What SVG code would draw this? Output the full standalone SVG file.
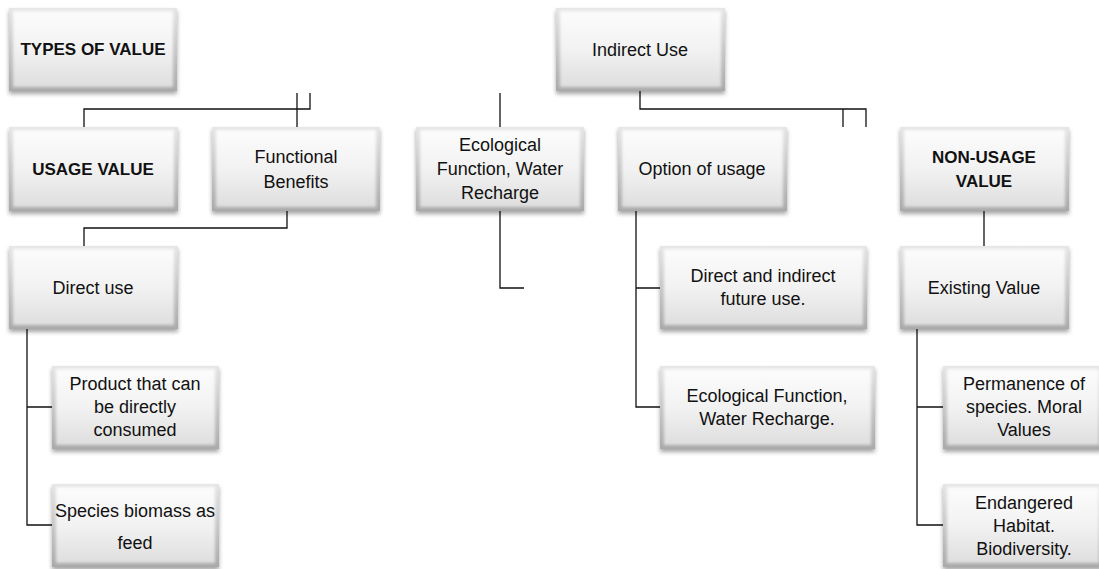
<svg xmlns="http://www.w3.org/2000/svg" width="1099" height="569" viewBox="0 0 1099 569">
<defs>
<linearGradient id="edge" x1="0" y1="0" x2="0" y2="1">
<stop offset="0" stop-color="#e6e6e6"/>
<stop offset="1" stop-color="#a9a9a9"/>
</linearGradient>
<linearGradient id="face" x1="0" y1="0" x2="0" y2="1">
<stop offset="0" stop-color="#fcfcfc"/>
<stop offset="0.5" stop-color="#f2f2f2"/>
<stop offset="1" stop-color="#dedede"/>
</linearGradient>
<filter id="sh" x="-10%" y="-10%" width="125%" height="130%">
<feDropShadow dx="0" dy="3" stdDeviation="2" flood-color="#000" flood-opacity="0.35"/>
</filter>
<filter id="soft" x="-5%" y="-5%" width="110%" height="110%">
<feGaussianBlur stdDeviation="1.5"/>
</filter>
</defs>
<style>
.o{fill:url(#edge);filter:url(#sh)}
.f{fill:url(#face);filter:url(#soft)}
text{font-family:"Liberation Sans",Arial,sans-serif;font-size:18px;fill:#111;text-anchor:middle}
.b{font-weight:bold;font-size:17px}
.c{fill:none;stroke:#111;stroke-width:1.3}
</style>
<rect width="1099" height="569" fill="#fff"/>
<g id="connectors">
<path class="c" d="M297,93V127"/>
<path class="c" d="M310,93V109H84V127"/>
<path class="c" d="M287,211V228H84V246"/>
<path class="c" d="M500,93V127"/>
<path class="c" d="M500,211V288H524"/>
<path class="c" d="M640,91V109H866V127"/>
<path class="c" d="M843,109V127"/>
<path class="c" d="M636,211V407H660M636,288H660"/>
<path class="c" d="M984,211V246"/>
<path class="c" d="M27,329V525H52M27,407H52"/>
<path class="c" d="M917,329V525H943M917,407H943"/>
</g>
<g id="types"><rect class="o" x="9" y="8" width="168" height="83"/><rect class="f" x="13" y="11" width="160" height="76"/><text class="b" x="93" y="55">TYPES OF VALUE</text></g>
<g id="usage"><rect class="o" x="9" y="127" width="169" height="84"/><rect class="f" x="13" y="130" width="161" height="77"/><text class="b" x="93" y="175">USAGE VALUE</text></g>
<g id="functional"><rect class="o" x="212" y="127" width="168" height="84"/><rect class="f" x="216" y="130" width="160" height="77"/><text x="296" y="163">Functional</text><text x="296" y="188">Benefits</text></g>
<g id="eco"><rect class="o" x="416" y="127" width="168" height="84"/><rect class="f" x="420" y="130" width="160" height="77"/><text x="500" y="151">Ecological</text><text x="500" y="175">Function, Water</text><text x="500" y="199">Recharge</text></g>
<g id="indirect"><rect class="o" x="556" y="8" width="169" height="83"/><rect class="f" x="560" y="11" width="161" height="76"/><text x="640" y="56">Indirect Use</text></g>
<g id="option"><rect class="o" x="618" y="127" width="169" height="84"/><rect class="f" x="622" y="130" width="161" height="77"/><text x="702" y="175">Option of usage</text></g>
<g id="nonusage"><rect class="o" x="900" y="127" width="169" height="84"/><rect class="f" x="904" y="130" width="161" height="77"/><text class="b" x="984" y="163">NON-USAGE</text><text class="b" x="984" y="187">VALUE</text></g>
<g id="direct"><rect class="o" x="9" y="246" width="169" height="83"/><rect class="f" x="13" y="249" width="161" height="76"/><text x="93" y="294">Direct use</text></g>
<g id="product"><rect class="o" x="52" y="366" width="167" height="83"/><rect class="f" x="56" y="369" width="159" height="76"/><text x="135" y="390">Product that can</text><text x="135" y="413">be directly</text><text x="135" y="436">consumed</text></g>
<g id="species"><rect class="o" x="52" y="484" width="167" height="83"/><rect class="f" x="56" y="487" width="159" height="76"/><text x="135" y="517">Species biomass as</text><text x="135" y="549">feed</text></g>
<g id="future"><rect class="o" x="660" y="246" width="207" height="83"/><rect class="f" x="664" y="249" width="199" height="76"/><text x="763" y="282">Direct and indirect</text><text x="763" y="305">future use.</text></g>
<g id="ecofn"><rect class="o" x="660" y="366" width="215" height="83"/><rect class="f" x="664" y="369" width="207" height="76"/><text x="767" y="402">Ecological Function,</text><text x="767" y="425">Water Recharge.</text></g>
<g id="existing"><rect class="o" x="900" y="246" width="169" height="83"/><rect class="f" x="904" y="249" width="161" height="76"/><text x="984" y="294">Existing Value</text></g>
<g id="permanence"><rect class="o" x="943" y="366" width="160" height="83"/><rect class="f" x="947" y="369" width="152" height="76"/><text x="1024" y="390">Permanence of</text><text x="1024" y="413">species. Moral</text><text x="1024" y="436">Values</text></g>
<g id="endangered"><rect class="o" x="943" y="484" width="160" height="83"/><rect class="f" x="947" y="487" width="152" height="76"/><text x="1024" y="509">Endangered</text><text x="1024" y="532">Habitat.</text><text x="1024" y="555">Biodiversity.</text></g>
</svg>
